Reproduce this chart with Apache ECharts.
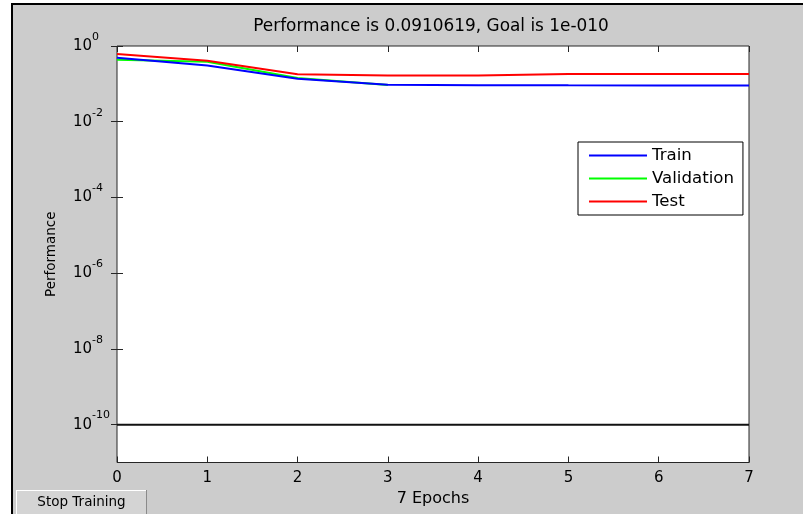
<!DOCTYPE html>
<html>
<head>
<meta charset="utf-8">
<script src="https://cdn.jsdelivr.net/npm/echarts@6/dist/echarts.min.js"></script>
<style>
html,body{margin:0;padding:0;background:#fff;}
#chart{width:803px;height:514px;}
</style>
</head>
<body>
<div id="chart"></div>
<script>
// ---- data ----
const epochs = [0, 1, 2, 3, 4, 5, 6, 7];
const trainPerf = [0.49, 0.305, 0.136, 0.095, 0.0922, 0.0913, 0.0911, 0.0910619];
const validationPerf = [0.433, 0.383, 0.142, 0.093];
const testPerf = [0.614, 0.407, 0.180, 0.167, 0.167, 0.182, 0.183, 0.183];
const goalValue = 1e-10;
const yTickValues = [1e-10, 1e-8, 1e-6, 1e-4, 1e-2, 1];
const xTickLabels = ['0', '1', '2', '3', '4', '5', '6', '7'];
const titleText = 'Performance is 0.0910619, Goal is 1e-010';
const xName = '7 Epochs';
const yName = 'Performance';
const seriesNames = ['Train', 'Validation', 'Test'];

function pairs(xs, ys) { return ys.map((v, i) => [xs[i], v]); }

const FONT = 'DejaVu Sans';
const chart = echarts.init(document.getElementById('chart'), null, {renderer: 'canvas'});

const yLabelFmt = function (v) {
  const e = Math.round(Math.log10(v));
  return '{b|10}{s|' + e + '}';
};

const option = {
  backgroundColor: '#ffffff',
  animation: false,
  textStyle: {fontFamily: FONT},
  grid: {
    left: 117, right: 54, top: 46, bottom: 51.5,
    show: true, backgroundColor: '#ffffff', borderColor: '#262626', borderWidth: 1
  },
  legend: {
    orient: 'vertical', left: 578, top: 142,
    data: seriesNames,
    icon: 'rect', itemWidth: 58, itemHeight: 2, itemGap: 6,
    padding: [5, 9, 5, 11],
    backgroundColor: '#ffffff', borderColor: '#000000', borderWidth: 1, borderRadius: 0,
    selectedMode: false,
    textStyle: {fontFamily: FONT, fontSize: 16.6, color: '#000', lineHeight: 16}
  },
  xAxis: [{
    type: 'value', min: 0, max: 7, interval: 1, position: 'bottom',
    name: xName, nameLocation: 'middle', nameGap: 25,
    nameTextStyle: {fontFamily: FONT, fontSize: 16, color: '#000'},
    axisLine: {show: false},
    axisTick: {show: true, inside: true, length: 6, lineStyle: {color: '#262626'}},
    axisLabel: {fontFamily: FONT, fontSize: 15, color: '#000', margin: 8,
      formatter: function (v) { return xTickLabels[Math.round(v)]; }},
    splitLine: {show: false}
  }, {
    type: 'value', min: 0, max: 7, interval: 1, position: 'top',
    axisLine: {show: false},
    axisTick: {show: true, inside: true, length: 6, lineStyle: {color: '#262626'}},
    axisLabel: {show: false},
    splitLine: {show: false}
  }],
  yAxis: [{
    type: 'log', logBase: 10, min: 1e-11, max: 1, position: 'left',
    name: yName, nameLocation: 'middle', nameGap: 59, nameRotate: 90,
    nameTextStyle: {fontFamily: FONT, fontSize: 13.5, color: '#000'},
    axisLine: {show: false},
    axisTick: {show: true, inside: true, length: 6, customValues: yTickValues, lineStyle: {color: '#262626'}},
    axisLabel: {
      customValues: yTickValues, align: 'left', margin: 44,
      formatter: yLabelFmt,
      rich: {
        b: {fontFamily: FONT, fontSize: 15, color: '#000'},
        s: {fontFamily: FONT, fontSize: 11, color: '#000', padding: [0, 0, 18, 0]}
      }
    },
    splitLine: {show: false}
  }, {
    type: 'log', logBase: 10, min: 1e-11, max: 1, position: 'right',
    axisLine: {show: false},
    axisTick: {show: true, inside: true, length: 6, customValues: yTickValues, lineStyle: {color: '#262626'}},
    axisLabel: {show: false},
    splitLine: {show: false}
  }],
  series: [
    {name: 'Train', type: 'line', data: pairs(epochs, trainPerf), color: '#0000ff',
     showSymbol: false, symbol: 'none', lineStyle: {width: 2, color: '#0000ff'}, z: 3},
    {name: 'Validation', type: 'line', data: pairs(epochs, validationPerf), color: '#00ff00',
     showSymbol: false, symbol: 'none', lineStyle: {width: 2, color: '#00ff00'}, z: 2},
    {name: 'Test', type: 'line', data: pairs(epochs, testPerf), color: '#ff0000',
     showSymbol: false, symbol: 'none', lineStyle: {width: 2, color: '#ff0000'}, z: 4},
    {name: 'Goal', type: 'line', data: [[epochs[0], goalValue], [epochs[epochs.length - 1], goalValue]],
     color: '#000000', showSymbol: false, symbol: 'none', lineStyle: {width: 2, color: '#111111'}, z: 5}
  ],
  graphic: [
    {type: 'rect', z: -100, silent: true,
     shape: {x: 12, y: 4, width: 820, height: 540},
     style: {fill: '#cccccc', stroke: '#000000', lineWidth: 2}},
    {type: 'text', z: 100, x: 431, y: 27,
     style: {text: titleText, fontFamily: FONT, fontSize: 16.9, fill: '#000',
             align: 'center', verticalAlign: 'middle'}},
    {type: 'group', z: 100, children: [
      {type: 'rect', shape: {x: 16, y: 490, width: 131, height: 30}, style: {fill: '#d4d4d4'}},
      {type: 'line', shape: {x1: 16, y1: 490.5, x2: 147, y2: 490.5}, style: {stroke: '#ffffff', lineWidth: 1}},
      {type: 'line', shape: {x1: 16.5, y1: 490, x2: 16.5, y2: 520}, style: {stroke: '#ffffff', lineWidth: 1}},
      {type: 'line', shape: {x1: 146.5, y1: 490, x2: 146.5, y2: 520}, style: {stroke: '#8a8a8a', lineWidth: 1}},
      {type: 'text', x: 81.5, y: 502,
       style: {text: 'Stop Training', fontFamily: FONT, fontSize: 13.5, fill: '#000',
               align: 'center', verticalAlign: 'middle'}}
    ]}
  ]
};
chart.setOption(option);
</script>
</body>
</html>
